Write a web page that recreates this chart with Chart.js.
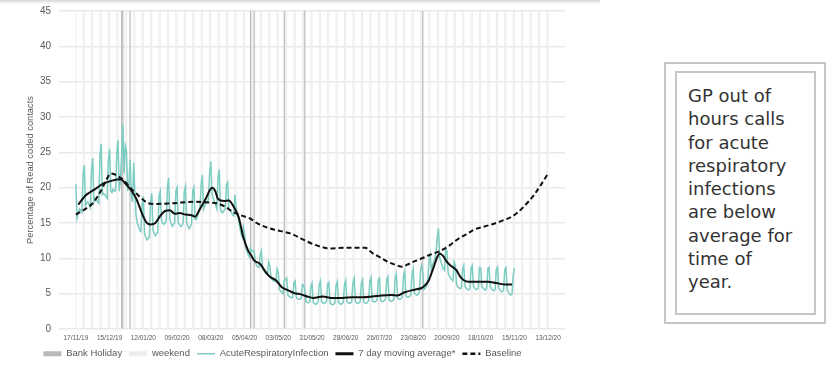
<!DOCTYPE html>
<html>
<head>
<meta charset="utf-8">
<script src="https://cdn.jsdelivr.net/npm/chart.js@4.4.1/dist/chart.umd.min.js"></script>
<style>
    html, body { margin: 0; padding: 0; background: #fff; }
    body { width: 826px; height: 387px; position: relative; overflow: hidden; }
    #card { position: absolute; left: 0; top: 0; width: 600px; height: 387px; }
    #card:before { content: ''; position: absolute; left: 0; top: 0; width: 600px; height: 4px; background: linear-gradient(#d6d6d6, #fff); }
    #noteOuter { position: absolute; left: 664px; top: 62px; width: 158px; height: 258px; border: 2px solid #c6c6c6; }
    #noteInner { position: absolute; left: 9px; top: 7px; width: 137px; height: 240px; border: 2px solid #c6c6c6; }
    #noteText { position: absolute; left: 688px; top: 84px; font-family: "DejaVu Sans", sans-serif; font-size: 18px; line-height: 23.3px; color: #333; }
</style>
</head>
<body>
<div id="card"><canvas id="chart" width="600" height="387"></canvas></div>
<div id="noteOuter"><div id="noteInner"></div></div>
<div id="noteText">GP out of<br>hours calls<br>for acute<br>respiratory<br>infections<br>are below<br>average for<br>time of<br>year.</div>
<script>
// day 0 = 17/11/19, one x unit per day
const startDate = [2019, 10, 17];
const tickLabels = ['17/11/19', '15/12/19', '12/01/20', '09/02/20', '08/03/20', '05/04/20', '03/05/20',
    '31/05/20', '28/06/20', '26/07/20', '23/08/20', '20/09/20', '18/10/20', '15/11/20', '13/12/20'];
const lastDay = 392;

// bank holidays as day offsets (25/12, 26/12, 01/01, 10/04, 13/04, 08/05, 25/05, 31/08)
const bankHolidays = [38, 39, 45, 145, 148, 173, 190, 288];

// daily AcuteRespiratoryInfection %, one row per week (Sun..Sat)
const acuteValues = [
    20.5, 15.7, 16.5, 17.0, 16.8, 16.5, 21.8,
    23.2, 17.5, 17.8, 18.0, 17.6, 17.2, 22.5,
    24.2, 18.0, 18.5, 18.2, 18.0, 17.8, 24.5,
    26.2, 19.0, 19.2, 19.0, 18.8, 18.5, 24.0,
    25.5, 19.5, 19.3, 19.8, 19.5, 19.6, 25.0,
    26.7, 19.5, 21.0, 24.5, 28.9, 22.0, 25.9,
    25.2, 19.5, 20.5, 23.9, 19.0, 18.0, 23.5,
    19.0, 16.0, 15.0, 14.5, 14.0, 13.8, 17.5,
    18.8, 13.5, 13.0, 12.6, 12.8, 13.0, 18.0,
    19.2, 14.0, 13.5, 13.2, 13.5, 13.6, 18.8,
    19.5, 15.5, 15.0, 14.8, 15.0, 15.3, 20.0,
    21.4, 15.5, 15.0, 14.5, 14.8, 15.0, 19.5,
    20.0, 15.0, 14.8, 14.5, 14.6, 15.0, 19.5,
    20.2, 15.0, 14.5, 14.2, 14.5, 14.8, 19.5,
    20.1, 15.5, 15.5, 16.0, 16.5, 17.0, 20.5,
    21.8, 17.0, 17.5, 17.8, 18.0, 18.3, 22.0,
    23.7, 19.0, 18.5, 18.0, 17.5, 17.0, 21.5,
    22.6, 17.0, 16.5, 16.5, 16.8, 17.0, 20.5,
    20.8, 17.0, 16.8, 16.5, 16.2, 16.0, 19.0,
    17.3, 16.0, 15.5, 14.5, 13.5, 13.0, 14.5,
    13.5, 11.5, 11.0, 10.5, 10.2, 11.5, 11.0,
    11.1, 11.0, 9.5, 9.0, 8.8, 8.7, 10.5,
    11.1, 8.5, 8.3, 8.0, 7.8, 7.7, 9.5,
    9.0, 7.3, 7.0, 6.8, 6.8, 6.7, 8.5,
    8.0, 5.6, 5.3, 5.2, 5.0, 6.8, 7.0,
    7.2, 4.8, 4.6, 4.5, 4.4, 4.5, 6.5,
    6.8, 4.5, 4.3, 4.2, 4.2, 4.3, 6.3,
    6.2, 5.6, 3.9, 3.8, 3.7, 3.8, 6.0,
    6.5, 3.8, 3.6, 3.5, 3.6, 3.8, 6.3,
    6.8, 3.9, 3.7, 3.6, 3.7, 3.9, 6.4,
    6.6, 3.7, 3.5, 3.4, 3.5, 3.7, 6.2,
    6.7, 3.8, 3.6, 3.5, 3.6, 3.8, 6.4,
    6.9, 3.9, 3.7, 3.6, 3.7, 3.9, 6.6,
    7.2, 3.9, 3.7, 3.6, 3.7, 3.9, 6.6,
    7.0, 3.8, 3.7, 3.6, 3.8, 4.0, 6.8,
    7.3, 4.0, 3.9, 3.8, 3.9, 4.1, 6.9,
    7.2, 4.0, 3.9, 3.9, 4.0, 4.2, 7.0,
    7.4, 4.1, 4.0, 3.9, 4.0, 4.2, 7.2,
    7.8, 4.4, 4.2, 4.2, 4.3, 4.5, 7.6,
    8.2, 4.7, 4.5, 4.5, 4.6, 4.8, 7.8,
    8.5, 5.0, 4.9, 4.8, 4.9, 5.2, 8.2,
    9.0, 8.0, 5.6, 5.8, 6.0, 6.5, 9.5,
    10.5, 8.5, 9.0, 9.5, 10.0, 11.0, 13.0,
    14.2, 10.0, 9.5, 9.0, 8.5, 8.3, 11.4,
    11.0, 8.0, 7.5, 7.2, 7.0, 6.8, 9.5,
    9.0, 6.3, 6.0, 5.8, 5.7, 5.8, 8.5,
    9.0, 6.0, 5.8, 5.6, 5.5, 5.7, 8.6,
    9.0, 6.1, 5.8, 5.6, 5.6, 5.8, 8.7,
    8.7, 6.0, 5.8, 5.6, 5.5, 5.8, 8.6,
    8.7, 6.0, 5.7, 5.5, 5.4, 5.6, 8.5,
    8.8, 5.8, 5.5, 5.3, 5.3, 5.5, 8.4,
    8.7, 5.6, 5.2, 5.0, 4.8, 4.9, 7.5,
    8.6
];

// 7 day moving average, read at these days
const maDays = [2, 8, 16, 23, 30, 37, 42, 46, 50, 53, 56, 59, 62, 66, 70, 74, 78, 82, 86, 91, 96, 99,
    103, 108, 111, 113, 115.5, 118, 123, 127, 131, 135, 137, 139, 143, 146, 148, 153, 157, 161, 166,
    171, 176, 181, 187, 192, 197, 205, 212, 221, 230, 238, 246, 254, 262, 267, 273, 282, 287, 290,
    293, 295, 297.5, 299.5, 302, 305, 308, 311, 316, 319, 322, 326, 335, 342, 349, 357, 362];
const maValues = [17.6, 18.9, 19.8, 20.6, 21.0, 21.2, 20.4, 19.6, 18.5, 17.2, 15.9, 15.0, 14.8, 15.0,
    16.0, 16.7, 16.8, 16.3, 16.4, 16.2, 16.1, 15.9, 17.0, 18.5, 19.6, 20.0, 19.6, 18.4, 18.1, 18.2,
    17.3, 15.9, 14.5, 13.0, 11.1, 10.3, 9.7, 9.2, 8.2, 7.4, 6.9, 5.9, 5.5, 5.1, 4.9, 4.6, 4.4, 4.6,
    4.4, 4.4, 4.5, 4.5, 4.6, 4.75, 4.8, 4.75, 5.2, 5.6, 5.8, 6.2, 6.9, 7.8, 9.0, 10.0, 10.7, 10.3,
    9.5, 9.0, 8.3, 7.4, 6.9, 6.7, 6.7, 6.7, 6.5, 6.3, 6.3];

// baseline, read at these days
const baselineDays = [0, 7, 14, 21, 25, 29, 32, 36, 40, 45, 50, 55, 60, 65, 80, 99, 110, 117, 124, 130,
    137, 145, 151, 158, 166, 174, 180, 187, 197, 204, 210, 223, 240, 246.5, 253, 259, 265, 271, 275,
    280, 286, 292.5, 303, 310, 316, 324, 331, 339, 347, 355, 362, 366, 370, 375, 380, 386, 392];
const baselineValues = [16.2, 16.9, 17.8, 19.6, 21.0, 22.0, 21.9, 21.5, 21.0, 20.0, 19.2, 18.4, 17.8,
    17.7, 17.8, 18.0, 17.9, 17.8, 17.3, 16.6, 16.1, 15.6, 14.9, 14.4, 14.0, 13.7, 13.4, 12.8, 12.0,
    11.6, 11.4, 11.5, 11.5, 10.7, 10.1, 9.5, 9.1, 8.8, 9.1, 9.5, 9.9, 10.4, 11.1, 11.8, 12.6, 13.4,
    14.1, 14.5, 14.9, 15.4, 15.9, 16.4, 17.0, 17.9, 18.9, 20.4, 22.0];

// weekend days (Sat, Sun) in the plotted range
const weekendDays = [];
for (let d = 0; d <= lastDay; d++) {
    const wd = new Date(startDate[0], startDate[1], startDate[2] + d).getDay();
    if (wd === 0 || wd === 6) weekendDays.push(d);
}

const fullHeight = 45;
const textColor = '#595959';
const font = 'Liberation Sans, Arial, sans-serif';

// legend: lines take the dataset's own dash and a set width
function legendLabels(chart) {
    const items = Chart.defaults.plugins.legend.labels.generateLabels(chart);
    items.forEach(item => {
        const ds = chart.data.datasets[item.datasetIndex];
        if (ds.type === 'bar') return;
        item.strokeStyle = ds.borderColor;
        item.lineDash = ds.borderDash || [];
        item.lineWidth = ds.legendWidth;
    });
    return items;
}

const ctx = document.getElementById('chart').getContext('2d');
new Chart(ctx, {
    type: 'line',
    data: {
        datasets: [
            {
                type: 'bar',
                label: 'Bank Holiday',
                data: bankHolidays.map(d => ({ x: d, y: fullHeight })),
                backgroundColor: '#bababa',
                borderWidth: 0,
                inflateAmount: 0,
                barPercentage: 1,
                categoryPercentage: 1,
                grouped: false,
                pointStyle: 'rect',
                order: 10
            },
            {
                type: 'bar',
                label: 'weekend',
                data: weekendDays.map(d => ({ x: d, y: fullHeight })),
                backgroundColor: '#ededed',
                borderWidth: 0,
                inflateAmount: 0,
                barPercentage: 0.85,
                categoryPercentage: 1,
                grouped: false,
                pointStyle: 'rect',
                order: 11
            },
            {
                label: 'AcuteRespiratoryInfection',
                data: acuteValues.map((v, i) => ({ x: i, y: v })),
                borderColor: '#7dcdc3',
                borderWidth: 1.5,
                legendWidth: 1.5,
                pointRadius: 0,
                pointStyle: 'line',
                tension: 0,
                order: 3
            },
            {
                label: '7 day moving average*',
                data: maDays.map((d, i) => ({ x: d, y: maValues[i] })),
                borderColor: '#111',
                borderWidth: 2,
                legendWidth: 3,
                pointRadius: 0,
                pointStyle: 'line',
                cubicInterpolationMode: 'monotone',
                order: 2
            },
            {
                label: 'Baseline',
                data: baselineDays.map((d, i) => ({ x: d, y: baselineValues[i] })),
                borderColor: '#111',
                borderWidth: 2,
                legendWidth: 2.5,
                borderDash: [5, 3],
                pointRadius: 0,
                pointStyle: 'line',
                cubicInterpolationMode: 'monotone',
                order: 1
            }
        ]
    },
    options: {
        responsive: false,
        animation: false,
        devicePixelRatio: 1,
        layout: { padding: { left: 0, right: 35, top: 8, bottom: 18.5 } },
        plugins: {
            legend: {
                position: 'bottom',
                labels: {
                    usePointStyle: true,
                    pointStyleWidth: 18,
                    boxHeight: 5,
                    padding: 7,
                    color: textColor,
                    font: { size: 9.5, family: font },
                    generateLabels: legendLabels,
                    sort: (a, b) => a.datasetIndex - b.datasetIndex
                }
            },
            tooltip: { enabled: false }
        },
        scales: {
            x: {
                type: 'linear',
                min: 0,
                max: lastDay,
                grid: { display: false, drawTicks: false },
                border: { display: false },
                ticks: {
                    stepSize: 28,
                    autoSkip: false,
                    maxRotation: 0,
                    padding: 5,
                    color: textColor,
                    font: { size: 6.5, family: font },
                    callback: v => tickLabels[v / 28]
                },
                afterFit: s => { s.height = 13; }
            },
            y: {
                min: 0,
                max: 45,
                grid: { color: '#e9e9e9', lineWidth: 1.5, drawTicks: false },
                border: { display: false },
                ticks: { stepSize: 5, padding: 8, color: textColor, font: { size: 10, lineHeight: 0.6, family: font } },
                title: {
                    display: true,
                    text: 'Percentage of Read coded contacts',
                    color: textColor,
                    font: { size: 9.3, family: font },
                    padding: { top: 25, bottom: 0 }
                },
                afterFit: s => { s.width = 59; }
            }
        }
    }
});
</script>
</body>
</html>
